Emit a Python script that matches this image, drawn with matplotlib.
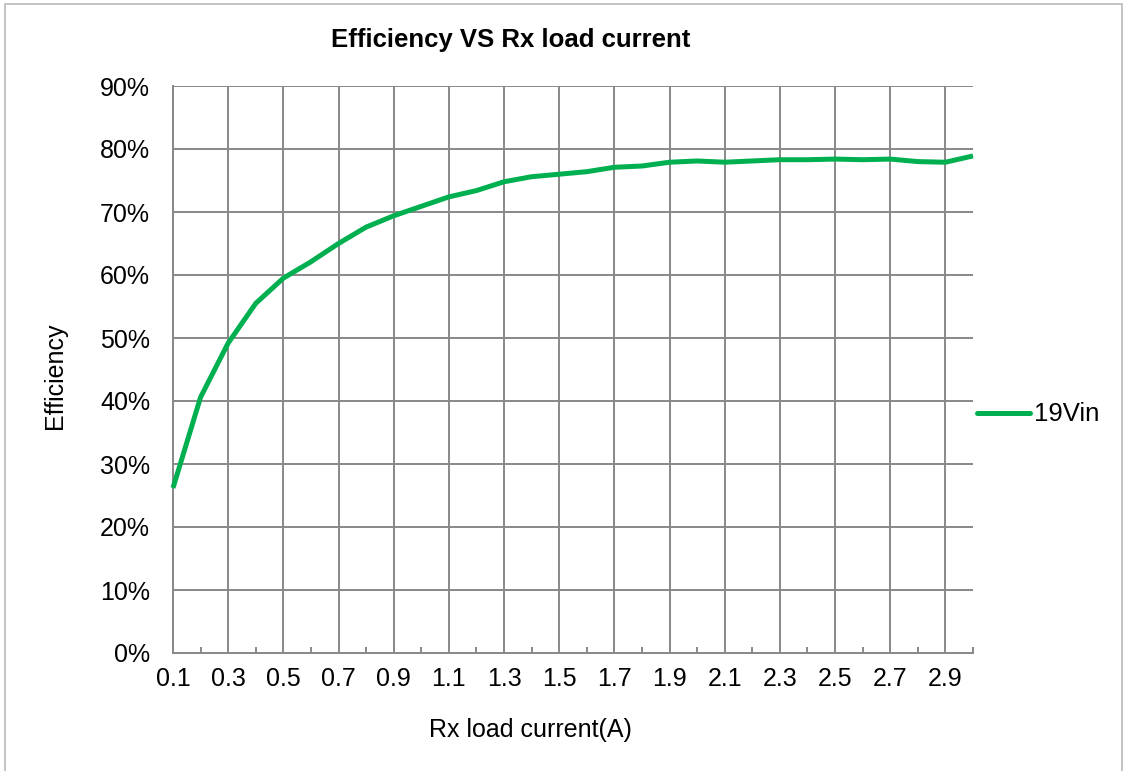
import matplotlib
matplotlib.use("Agg")
import matplotlib.pyplot as plt
from matplotlib.ticker import FixedLocator, FuncFormatter
from matplotlib.lines import Line2D
from matplotlib.patches import Rectangle

plt.rcParams['font.family'] = ['Liberation Sans', 'DejaVu Sans']

# Data
current_a = [0.1, 0.2, 0.3, 0.4, 0.5, 0.6, 0.7, 0.8, 0.9, 1.0,
             1.1, 1.2, 1.3, 1.4, 1.5, 1.6, 1.7, 1.8, 1.9, 2.0,
             2.1, 2.2, 2.3, 2.4, 2.5, 2.6, 2.7, 2.8, 2.9, 3.0]
eff_19vin = [26.2, 40.6, 49.2, 55.5, 59.5, 62.1, 65.0, 67.6, 69.4, 70.9,
             72.4, 73.4, 74.8, 75.6, 76.0, 76.4, 77.1, 77.3, 77.9, 78.1,
             77.9, 78.1, 78.3, 78.3, 78.4, 78.3, 78.4, 78.0, 77.9, 78.9]
xtick_labels = ["0.1", "0.3", "0.5", "0.7", "0.9", "1.1", "1.3", "1.5",
                "1.7", "1.9", "2.1", "2.3", "2.5", "2.7", "2.9"]
ytick_values = [0, 10, 20, 30, 40, 50, 60, 70, 80, 90]
series_name = "19Vin"
title = "Efficiency VS Rx load current"
xlabel = "Rx load current(A)"
ylabel = "Efficiency"

W, H = 1127, 771
fig = plt.figure(figsize=(W / 100, H / 100), dpi=100)
fig.patch.set_facecolor("white")

# outer chart border
fig.add_artist(Rectangle((4.5 / W, -0.01), (1122 - 4.5) / W, (H - 3.5) / H + 0.01,
                         transform=fig.transFigure, fill=False,
                         edgecolor="#BFBFBF", linewidth=1.3))

L, R, T, B = 173, 973, 86, 653
ax = fig.add_axes([L / W, 1 - B / H, (R - L) / W, (B - T) / H])

green = "#00B050"
grid_c = "#888888"

ax.plot(current_a, eff_19vin, color=green, linewidth=3.6,
        solid_joinstyle="round", solid_capstyle="butt", zorder=3, clip_on=False)

ax.set_xlim(current_a[0], current_a[-1])
ax.set_ylim(ytick_values[0], ytick_values[-1])

# x ticks: labels every other category, minor inside ticks at the rest
major_pos = [float(s) for s in xtick_labels]
ax.xaxis.set_major_locator(FixedLocator(major_pos))
ax.set_xticklabels(xtick_labels)
ax.xaxis.set_minor_locator(FixedLocator(current_a[1::2]))
ax.tick_params(axis="x", which="major", length=0, pad=10, labelsize=18)
ax.tick_params(axis="x", which="minor", direction="in", length=4, width=1.4,
               color=grid_c)

ax.yaxis.set_major_locator(FixedLocator(ytick_values))
ax.yaxis.set_major_formatter(FuncFormatter(lambda v, p: f"{v:.0f}%"))
ax.tick_params(axis="y", which="major", length=0, pad=16.5, labelsize=18)

ax.grid(True, which="major", color=grid_c, linewidth=1.4)
ax.set_axisbelow(True)
for s in ["top", "right"]:
    ax.spines[s].set_visible(False)
for s in ["left", "bottom"]:
    ax.spines[s].set_color(grid_c)
    ax.spines[s].set_linewidth(1.4)

fig.text(511 / W, 1 - 40 / H, title, ha="center", va="center",
         fontsize=18.5, fontweight="bold")
fig.text(530 / W, 1 - 730 / H, xlabel, ha="center", va="center", fontsize=18)
fig.text(55 / W, 1 - 376 / H, ylabel, ha="center", va="center",
         rotation=90, fontsize=18)

# legend
fig.add_artist(Line2D([977 / W, 1030 / W], [1 - 413 / H, 1 - 413 / H],
                      transform=fig.transFigure, color=green, linewidth=3.6,
                      solid_capstyle="round"))
fig.text(1034 / W, 1 - 414 / H, series_name, ha="left", va="center", fontsize=18.5)

fig.savefig("out.png", dpi=100, facecolor="white")
